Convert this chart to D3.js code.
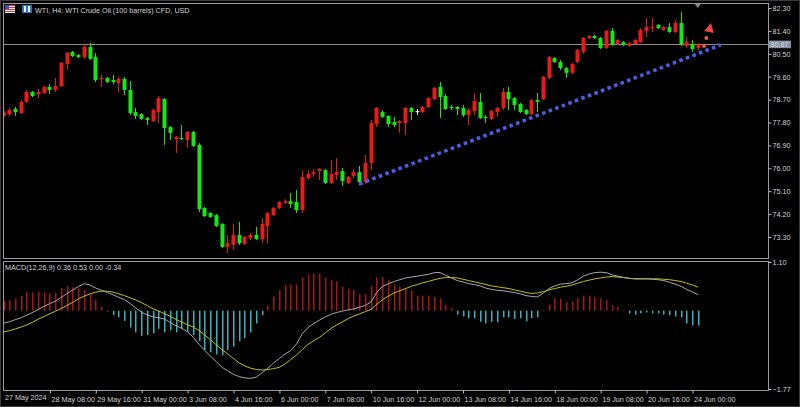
<!DOCTYPE html>
<html><head><meta charset="utf-8">
<script src="https://cdn.jsdelivr.net/npm/d3@7"></script>
<style>
html,body{margin:0;padding:0;background:#000;overflow:hidden}
svg{display:block}
text{font-family:"Liberation Sans",Arial,sans-serif;font-size:7.2px;fill:#d4d4d4}
</style></head><body>
<svg id="c" width="800" height="407"></svg>
<script>
// ---------- DATA (WTI H4 candles, bar index 0 = 27 May 2024 00:00) ----------
const openP  = [78.09,78.13,78.33,78.17,78.61,79.00,78.92,78.96,79.20,79.08,79.23,80.10,80.57,80.45,80.37,80.77,80.37,79.51,79.55,79.47,79.35,79.51,79.08,78.21,78.13,77.98,77.86,78.21,78.72,77.62,77.15,77.19,77.11,77.43,76.92,74.44,74.24,74.16,73.81,72.91,72.99,73.38,73.03,73.26,73.38,73.22,73.73,74.16,74.44,74.64,74.71,74.68,74.36,75.62,75.78,75.89,75.93,75.42,75.74,75.89,75.42,75.70,75.85,75.46,76.21,77.74,78.21,78.06,77.82,77.78,77.78,78.37,78.25,78.21,78.41,78.72,79.20,78.84,78.41,78.41,78.37,78.09,78.25,78.61,78.02,77.94,78.21,78.37,79.00,78.76,78.53,78.29,78.13,78.68,78.72,79.55,80.33,80.18,79.94,79.75,80.18,80.57,81.12,81.20,81.12,80.73,81.40,80.88,80.96,80.81,80.88,80.96,81.40,81.51,81.63,81.44,81.55,81.36,81.71,80.81,80.88,80.73];
const highP  = [78.25,78.37,78.41,78.68,79.08,79.04,79.12,79.23,79.31,79.55,80.18,80.57,80.61,80.49,80.88,80.92,80.53,79.67,79.59,79.67,79.59,79.59,79.43,78.37,78.17,78.02,78.33,78.84,78.76,77.66,77.27,77.70,77.47,77.47,76.99,74.48,74.28,74.20,73.85,73.38,73.81,73.89,73.34,73.46,73.69,74.05,74.28,74.48,74.71,74.79,75.03,75.15,75.93,75.93,75.97,76.01,75.97,76.33,76.40,76.01,75.70,75.97,76.09,76.52,77.90,78.41,78.29,78.09,78.02,77.90,78.41,78.41,78.33,78.45,78.80,79.20,79.39,78.92,78.49,78.45,78.49,78.37,78.96,78.96,78.09,78.29,78.41,79.16,79.20,78.80,78.57,78.33,78.72,78.96,79.63,80.41,80.37,80.26,79.98,80.14,80.69,81.16,81.24,81.24,81.16,81.44,81.51,81.08,81.00,80.96,81.08,81.51,81.91,81.91,81.67,81.59,81.71,81.83,82.14,81.16,81.04,80.92];
const lowP   = [78.02,78.06,78.06,78.13,78.57,78.80,78.76,78.92,78.92,79.00,79.20,79.86,80.37,80.33,80.30,80.26,79.39,79.20,79.35,79.31,79.00,78.88,78.09,77.94,77.90,77.70,77.82,77.78,76.92,77.11,76.60,77.11,76.80,76.84,74.28,74.09,74.05,73.69,72.87,72.67,72.79,72.99,72.99,73.18,73.18,73.06,73.06,74.12,74.40,74.60,74.44,74.24,74.24,75.54,75.66,75.54,75.38,75.38,75.54,75.30,75.38,75.62,75.34,75.38,75.93,77.62,77.98,77.62,77.62,77.39,77.31,77.90,78.09,78.17,78.37,78.68,77.98,78.29,78.29,78.09,78.02,77.70,78.09,77.94,77.78,77.90,78.02,78.29,78.29,78.29,78.17,78.09,78.09,78.21,78.68,79.51,80.14,79.86,79.55,79.71,80.14,80.49,81.08,81.08,80.69,80.69,80.81,80.85,80.81,80.77,80.85,80.92,81.16,81.36,81.47,81.40,81.32,81.32,80.81,80.73,80.57,80.65];
const closeP = [78.17,78.29,78.21,78.61,79.00,78.84,79.00,79.20,79.08,79.23,80.14,80.53,80.41,80.37,80.77,80.30,79.47,79.55,79.39,79.39,79.51,79.08,78.17,78.06,77.94,77.90,78.29,78.76,77.58,77.39,77.23,77.15,77.43,76.88,74.40,74.12,74.09,73.73,72.91,73.06,73.38,73.06,73.30,73.38,73.22,73.81,74.24,74.44,74.68,74.71,74.60,74.36,75.66,75.78,75.85,75.97,75.42,75.78,75.85,75.50,75.66,75.85,75.46,76.21,77.78,78.37,78.02,77.74,77.70,77.86,78.37,78.21,78.25,78.41,78.76,79.16,78.80,78.33,78.37,78.33,78.09,78.29,78.65,77.98,77.98,78.25,78.37,79.00,78.72,78.49,78.21,78.13,78.68,78.61,79.59,80.37,80.18,79.94,79.75,80.10,80.65,81.12,81.20,81.12,80.73,81.40,80.85,81.04,80.85,80.92,81.04,81.44,81.55,81.55,81.51,81.55,81.36,81.71,80.88,80.96,80.69,80.87];

// MACD(12,26,9): main line (grey), signal (yellow), histogram (red up / cyan down)
const macdLine = [-0.28,-0.25,-0.20,-0.16,-0.10,-0.04,0.03,0.10,0.16,0.22,0.30,0.39,0.47,0.55,0.61,0.58,0.51,0.46,0.41,0.36,0.30,0.25,0.16,0.06,-0.04,-0.10,-0.14,-0.16,-0.19,-0.27,-0.34,-0.40,-0.48,-0.60,-0.76,-0.90,-1.03,-1.15,-1.28,-1.36,-1.44,-1.49,-1.52,-1.53,-1.50,-1.40,-1.30,-1.18,-1.08,-0.98,-0.90,-0.75,-0.52,-0.38,-0.29,-0.21,-0.14,-0.08,-0.04,-0.01,0.02,0.04,0.08,0.12,0.20,0.42,0.55,0.61,0.66,0.70,0.74,0.76,0.78,0.80,0.82,0.86,0.86,0.80,0.74,0.68,0.65,0.61,0.59,0.56,0.51,0.48,0.46,0.45,0.43,0.41,0.38,0.34,0.32,0.31,0.40,0.50,0.56,0.60,0.61,0.63,0.70,0.78,0.83,0.86,0.87,0.86,0.81,0.78,0.75,0.73,0.72,0.72,0.72,0.71,0.70,0.68,0.64,0.60,0.55,0.48,0.42,0.36];
const signalLine = [-0.48,-0.45,-0.41,-0.37,-0.32,-0.26,-0.19,-0.13,-0.07,-0.01,0.05,0.12,0.19,0.27,0.33,0.38,0.42,0.44,0.44,0.42,0.38,0.34,0.29,0.24,0.18,0.11,0.04,-0.01,-0.07,-0.13,-0.20,-0.26,-0.32,-0.37,-0.45,-0.55,-0.66,-0.77,-0.88,-0.98,-1.08,-1.18,-1.25,-1.30,-1.33,-1.34,-1.33,-1.31,-1.28,-1.20,-1.10,-1.00,-0.88,-0.76,-0.68,-0.60,-0.50,-0.40,-0.32,-0.25,-0.18,-0.12,-0.07,-0.02,0.03,0.15,0.25,0.33,0.40,0.45,0.50,0.55,0.59,0.63,0.66,0.70,0.73,0.75,0.75,0.74,0.71,0.68,0.65,0.62,0.59,0.56,0.54,0.52,0.50,0.47,0.44,0.41,0.39,0.40,0.43,0.47,0.50,0.53,0.55,0.58,0.62,0.66,0.69,0.72,0.74,0.76,0.77,0.76,0.75,0.73,0.72,0.72,0.72,0.72,0.72,0.71,0.70,0.68,0.66,0.62,0.58,0.53];
const histValues = [0.22,0.24,0.28,0.34,0.43,0.41,0.43,0.41,0.39,0.41,0.51,0.56,0.53,0.51,0.47,0.37,0.24,0.09,-0.01,-0.10,-0.15,-0.23,-0.38,-0.49,-0.57,-0.55,-0.51,-0.41,-0.49,-0.44,-0.49,-0.41,-0.48,-0.55,-0.69,-0.89,-0.94,-0.99,-1.01,-0.89,-0.81,-0.69,-0.62,-0.49,-0.29,-0.10,0.12,0.32,0.47,0.58,0.59,0.59,0.75,0.82,0.84,0.84,0.75,0.70,0.66,0.54,0.49,0.47,0.37,0.37,0.56,0.75,0.76,0.70,0.59,0.54,0.51,0.45,0.34,0.34,0.34,0.31,0.28,0.14,0.06,-0.09,-0.13,-0.17,-0.17,-0.25,-0.29,-0.25,-0.26,-0.15,-0.15,-0.19,-0.17,-0.24,-0.17,-0.15,0.01,0.14,0.28,0.27,0.20,0.20,0.28,0.34,0.34,0.31,0.28,0.24,0.12,0.09,0.02,-0.06,-0.09,-0.06,-0.04,-0.06,-0.06,-0.09,-0.10,-0.13,-0.15,-0.29,-0.33,-0.34];

const priceTicks = [82.30,81.40,80.50,79.60,78.70,77.80,76.90,76.00,75.10,74.20,73.30];
const macdTicks = [1.10,-1.77];
const timeTickBars = [8,16,24,32,40,48,56,64,72,80,88,96,104,112,120];
const timeTickLabels = ["28 May 08:00","29 May 16:00","31 May 00:00","3 Jun 08:00","4 Jun 16:00","6 Jun 00:00","7 Jun 08:00","10 Jun 16:00","12 Jun 00:00","13 Jun 08:00","14 Jun 16:00","18 Jun 00:00","19 Jun 08:00","20 Jun 16:00","24 Jun 00:00"];
const firstDateLabel = "27 May 2024";
const currentPrice = 80.87;
const titleText = "WTI, H4:  WTI Crude Oil (100 barrels) CFD, USD";
const macdTitle = "MACD(12,26,9) 0.36 0.53 0.00 -0.34";
// annotations (bar index, price)
const trendLine = [[62, 75.38],[125, 80.85]];
const arrowDots = [[122.1, 80.81],[122.5, 81.12]];
const arrowHead = [[123.3, 81.71],[122.1, 81.40],[123.8, 81.32]];

// ---------- LAYOUT ----------
const svg = d3.select("#c");
const L = 3, R = 768, mainTop = 3, mainBot = 258, mTop = 261, mBot = 390;
const x = d3.scaleLinear().domain([0, 120]).range([3.5, 692]);
const y = d3.scaleLinear().domain([73.30, 82.30]).range([237, 8]);
const ym = d3.scaleLinear().domain([-1.77, 1.10]).range([389, 262]);
const px = v => Math.round(x(v));

svg.append("rect").attr("width",800).attr("height",407).attr("fill","#000");
svg.append("rect").attr("x",0.5).attr("y",0.5).attr("width",799).attr("height",406)
  .attr("fill","none").attr("stroke","#3a3a3a");

const defs = svg.append("defs");
defs.append("clipPath").attr("id","cm").append("rect").attr("x",L+1).attr("y",mainTop+1).attr("width",R-L-1).attr("height",mainBot-mainTop-1);
defs.append("clipPath").attr("id","cd").append("rect").attr("x",L+1).attr("y",mTop+1).attr("width",R-L-1).attr("height",mBot-mTop-1);

// panel frames
const frameCol = "#9a9a9a";
svg.append("rect").attr("x",L+0.5).attr("y",mainTop+0.5).attr("width",R-L).attr("height",mainBot-mainTop)
  .attr("fill","none").attr("stroke",frameCol);
svg.append("rect").attr("x",L+0.5).attr("y",mTop+0.5).attr("width",R-L).attr("height",mBot-mTop)
  .attr("fill","none").attr("stroke",frameCol);

const gm = svg.append("g").attr("clip-path","url(#cm)");
const gd = svg.append("g").attr("clip-path","url(#cd)");

// current price line
gm.append("line").attr("x1",L).attr("x2",R).attr("y1",Math.round(y(currentPrice))+0.5).attr("y2",Math.round(y(currentPrice))+0.5)
  .attr("stroke","#8c8c8c").attr("stroke-width",1);

// candles
const bars = d3.range(openP.length);
const upCol = "#e81a1a", dnCol = "#18e618", dojiCol = "#dcdcdc";
const colOf = i => closeP[i] > openP[i] ? upCol : (closeP[i] < openP[i] ? dnCol : dojiCol);
gm.selectAll("line.wick").data(bars).join("line").attr("class","wick")
  .attr("x1", i => px(i)+0.5).attr("x2", i => px(i)+0.5)
  .attr("y1", i => y(highP[i])).attr("y2", i => y(lowP[i]))
  .attr("stroke", colOf).attr("stroke-width",1);
gm.selectAll("rect.body").data(bars).join("rect").attr("class","body")
  .attr("x", i => px(i)-1.5).attr("width", 4)
  .attr("y", i => Math.min(y(openP[i]), y(closeP[i])))
  .attr("height", i => Math.max(1.2, Math.abs(y(openP[i]) - y(closeP[i]))))
  .attr("fill", colOf);

// trend line (blue dotted)
gm.append("line")
  .attr("x1", x(trendLine[0][0])).attr("y1", y(trendLine[0][1]))
  .attr("x2", x(trendLine[1][0])).attr("y2", y(trendLine[1][1]))
  .attr("stroke","#4a5ee0").attr("stroke-width",3.6).attr("stroke-dasharray","3.6,3.4");

// red arrow annotation
gm.selectAll("rect.adot").data(arrowDots).join("rect").attr("class","adot")
  .attr("x", d => x(d[0])-1.7).attr("y", d => y(d[1])-1.7).attr("width",3.4).attr("height",3.4)
  .attr("fill","#f05a5a");
gm.append("path").attr("d", "M" + arrowHead.map(d => [x(d[0]), y(d[1])].join(",")).join("L") + "Z")
  .attr("fill","#ec4545");

// shift marker (small grey triangle at top)
svg.append("path").attr("d", `M${x(121)-3},${mainTop+1}L${x(121)+3},${mainTop+1}L${x(121)},${mainTop+5}Z`).attr("fill","#8a8a8a");

// price axis
const pAxis = svg.append("g").attr("transform",`translate(${R+0.5},0)`)
  .call(d3.axisRight(y).tickValues(priceTicks).tickFormat(d3.format(".2f")).tickSize(3).tickPadding(1));
pAxis.select(".domain").remove();
pAxis.selectAll(".tick line").attr("stroke","#bdbdbd");
pAxis.selectAll(".tick text").attr("fill","#d4d4d4").style("font-size","7.2px").attr("font-family",null);

// current price box
const cpY = y(currentPrice);
svg.append("rect").attr("x",R+1).attr("y",cpY-3.8).attr("width",22).attr("height",7.6).attr("fill","#8792a6");
svg.append("text").attr("x",R+2.5).attr("y",cpY+2.6).text(d3.format(".2f")(currentPrice)).attr("fill","#2b3040");

// MACD histogram
const upH = "#a51616", dnH = "#35b4bc";
gd.selectAll("rect.h").data(bars).join("rect").attr("class","h")
  .attr("x", i => px(i)).attr("width", 1.5)
  .attr("y", i => Math.min(ym(0), ym(histValues[i])))
  .attr("height", i => Math.max(0.8, Math.abs(ym(0) - ym(histValues[i]))))
  .attr("fill", i => histValues[i] >= 0 ? upH : dnH);

const lineGen = arr => d3.line().x(i => x(i)+0.5).y(i => ym(arr[i])).curve(d3.curveLinear)(bars);
gd.append("path").attr("d", lineGen(signalLine)).attr("fill","none").attr("stroke","#c2c01a").attr("stroke-width",1);
gd.append("path").attr("d", lineGen(macdLine)).attr("fill","none").attr("stroke","#a8a8a8").attr("stroke-width",1);

// MACD axis
const mAxis = svg.append("g").attr("transform",`translate(${R+0.5},0)`)
  .call(d3.axisRight(ym).tickValues(macdTicks).tickFormat(d3.format(".2f")).tickSize(3).tickPadding(1));
mAxis.select(".domain").remove();
mAxis.selectAll(".tick line").attr("stroke","#bdbdbd");
mAxis.selectAll(".tick text").attr("fill","#d4d4d4").style("font-size","7.2px").attr("font-family",null);

// time axis
const tAxis = svg.append("g").attr("transform",`translate(0,${mBot+0.5})`)
  .call(d3.axisBottom(x).tickValues(timeTickBars).tickFormat((d,k) => timeTickLabels[k]).tickSize(3).tickPadding(3));
tAxis.select(".domain").remove();
tAxis.selectAll(".tick line").attr("stroke","#bdbdbd").attr("transform","translate(0.5,0)");
tAxis.selectAll(".tick text").attr("text-anchor","start").attr("dx","1.5").attr("fill","#d4d4d4").style("font-size","7.2px").attr("font-family",null);
svg.append("text").attr("x",L+2).attr("y",mBot+10).text(firstDateLabel);

// title with icons
const ic = svg.append("g");
ic.append("rect").attr("x",5).attr("y",5).attr("width",10).attr("height",8).attr("fill","#f4f4f4");
[0,2,4,6].forEach(k => ic.append("rect").attr("x",5).attr("y",5+k).attr("width",10).attr("height",1).attr("fill","#d83a3a"));
ic.append("rect").attr("x",5).attr("y",5).attr("width",4).attr("height",4).attr("fill","#3a56b8");
ic.append("rect").attr("x",22).attr("y",5).attr("width",10).attr("height",8).attr("fill","#2a74c8");
ic.append("rect").attr("x",24).attr("y",6).attr("width",2).attr("height",6).attr("fill","#f0f0f0");
ic.append("rect").attr("x",28).attr("y",6).attr("width",2).attr("height",6).attr("fill","#f0f0f0");
svg.append("text").attr("x",35).attr("y",12.5).text(titleText).attr("fill","#e6e6e6");
svg.append("text").attr("x",L+2).attr("y",mTop+8.5).text(macdTitle).attr("fill","#e0e0e0");
</script>
</body></html>
